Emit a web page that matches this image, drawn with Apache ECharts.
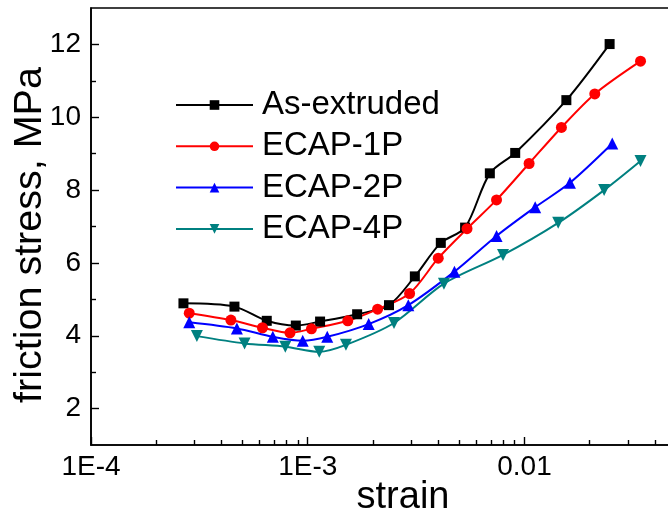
<!DOCTYPE html>
<html>
<head>
<meta charset="utf-8">
<script src="https://cdn.jsdelivr.net/npm/echarts@6/dist/echarts.min.js"></script>
<style>
html,body{margin:0;padding:0;background:#fff;}
#chart{width:668px;height:520px;}
</style>
</head>
<body>
<div id="chart"></div>
<script>
// ---- data ----
const seriesNames = ['As-extruded', 'ECAP-1P', 'ECAP-2P', 'ECAP-4P'];

const asExtrudedStrain = [2.67e-4, 4.59e-4, 6.47e-4, 8.81e-4, 1.14e-3, 1.69e-3, 2.37e-3, 3.12e-3, 4.11e-3, 5.32e-3, 6.92e-3, 9.06e-3, 1.56e-2, 2.47e-2];
const asExtrudedStress = [4.89, 4.80, 4.41, 4.28, 4.39, 4.59, 4.84, 5.63, 6.55, 6.97, 8.46, 9.02, 10.47, 12.01];

const ecap1Strain = [2.84e-4, 4.42e-4, 6.18e-4, 8.28e-4, 1.04e-3, 1.53e-3, 2.10e-3, 2.95e-3, 4.00e-3, 5.43e-3, 7.43e-3, 1.05e-2, 1.48e-2, 2.11e-2, 3.43e-2];
const ecap1Stress = [4.62, 4.43, 4.22, 4.08, 4.19, 4.41, 4.73, 5.16, 6.13, 6.94, 7.73, 8.73, 9.72, 10.64, 11.54];

const ecap2Strain = [2.84e-4, 4.71e-4, 6.90e-4, 9.48e-4, 1.23e-3, 1.91e-3, 2.91e-3, 4.75e-3, 7.43e-3, 1.12e-2, 1.62e-2, 2.54e-2];
const ecap2Stress = [4.37, 4.20, 3.97, 3.86, 3.97, 4.32, 4.84, 5.76, 6.74, 7.53, 8.20, 9.28];

const ecap4Strain = [3.08e-4, 5.11e-4, 7.88e-4, 1.13e-3, 1.50e-3, 2.50e-3, 4.25e-3, 7.96e-3, 1.43e-2, 2.33e-2, 3.43e-2];
const ecap4Stress = [3.99, 3.79, 3.70, 3.56, 3.75, 4.35, 5.43, 6.22, 7.10, 8.00, 8.80];

const strainTicks = [1e-4, 1e-3, 1e-2];
const strainTickLabels = ['1E-4', '1E-3', '0.01'];
const strainMinorMultipliers = [2, 3, 4, 5, 6, 7, 8, 9];
const stressTicks = [2, 4, 6, 8, 10, 12];
const stressMinorTicks = [3, 5, 7, 9, 11];

const xMin = 1e-4, xMax = 0.05;
const yMin = 1, yMax = 13;

// ---- build ----
const strainMinorTicks = [];
strainTicks.forEach(function (t) {
  strainMinorMultipliers.forEach(function (m) {
    const v = t * m;
    if (v < xMax) strainMinorTicks.push(Math.log10(v));
  });
});

function zip(a, b) { return a.map(function (v, i) { return [v, b[i]]; }); }

const colors = ['#000000', '#ff0000', '#0000ff', '#008080'];
const symbols = ['rect', 'circle', 'triangle', 'triangle'];
const rotations = [0, 0, 0, 180];
const sizes = [10, 11, 12, 12];
const dataSets = [
  zip(asExtrudedStrain, asExtrudedStress),
  zip(ecap1Strain, ecap1Stress),
  zip(ecap2Strain, ecap2Stress),
  zip(ecap4Strain, ecap4Stress)
];

const FONT = '"Liberation Sans", Arial, sans-serif';

const chart = echarts.init(document.getElementById('chart'), null, { renderer: 'canvas' });

const option = {
  animation: false,
  backgroundColor: '#ffffff',
  grid: {
    left: 91, top: 8, right: -8, bottom: 75,
    outerBoundsMode: 'none',
    containLabel: false,
    show: true, borderColor: '#000', borderWidth: 1.6, backgroundColor: 'transparent'
  },
  legend: {
    orient: 'vertical',
    left: 175, top: 88.5, padding: 0,
    itemWidth: 77, itemHeight: 12, itemGap: 8.3,
    data: seriesNames,
    textStyle: { fontFamily: FONT, fontSize: 33, lineHeight: 33, color: '#000', padding: [0, 0, 0, 4] }
  },
  xAxis: [
    {
      type: 'log', logBase: 10, min: xMin, max: xMax,
      axisLine: { show: true, onZero: false, lineStyle: { color: '#000', width: 1.6 } },
      axisTick: { show: true, inside: true, length: 8, lineStyle: { color: '#000', width: 1.4 } },
      axisLabel: {
        show: true, margin: 8, color: '#000', fontFamily: FONT, fontSize: 28,
        formatter: function (v) {
          for (let i = 0; i < strainTicks.length; i++) {
            if (Math.abs(Math.log10(v) - Math.log10(strainTicks[i])) < 1e-6) return strainTickLabels[i];
          }
          return '';
        }
      },
      splitLine: { show: false }
    },
    {
      type: 'value', min: Math.log10(xMin), max: Math.log10(xMax), position: 'bottom',
      axisLine: { show: false, onZero: false },
      axisTick: { show: true, inside: true, length: 5, customValues: strainMinorTicks, lineStyle: { color: '#000', width: 1.4 } },
      axisLabel: { show: false },
      splitLine: { show: false }
    }
  ],
  yAxis: [
    {
      type: 'value', min: yMin, max: yMax,
      axisLine: { show: true, onZero: false, lineStyle: { color: '#000', width: 1.6 } },
      axisTick: { show: true, inside: true, length: 8, customValues: stressTicks, lineStyle: { color: '#000', width: 1.4 } },
      axisLabel: { show: true, customValues: stressTicks, margin: 10, color: '#000', fontFamily: FONT, fontSize: 28 },
      splitLine: { show: false }
    },
    {
      type: 'value', min: yMin, max: yMax, position: 'left',
      axisLine: { show: false, onZero: false },
      axisTick: { show: true, inside: true, length: 5, customValues: stressMinorTicks, lineStyle: { color: '#000', width: 1.4 } },
      axisLabel: { show: false },
      splitLine: { show: false }
    }
  ],
  series: seriesNames.map(function (name, i) {
    return {
      name: name,
      type: 'line',
      xAxisIndex: 0, yAxisIndex: 0,
      data: dataSets[i],
      smooth: 0.3,
      symbol: symbols[i],
      symbolRotate: rotations[i],
      symbolSize: sizes[i],
      showSymbol: true,
      lineStyle: { color: colors[i], width: 2 },
      itemStyle: { color: colors[i], borderWidth: 0 },
      emphasis: { disabled: true }
    };
  }),
  graphic: [
    {
      type: 'text', x: 30, y: 235, rotation: Math.PI / 2,
      style: { text: 'friction stress, MPa', fontFamily: FONT, fontSize: 39.5, fill: '#000', textAlign: 'center', textVerticalAlign: 'middle' }
    },
    {
      type: 'text', x: 403, y: 498,
      style: { text: 'strain', fontFamily: FONT, fontSize: 38, fill: '#000', textAlign: 'center', textVerticalAlign: 'middle' }
    }
  ]
};

chart.setOption(option);
</script>
</body>
</html>
